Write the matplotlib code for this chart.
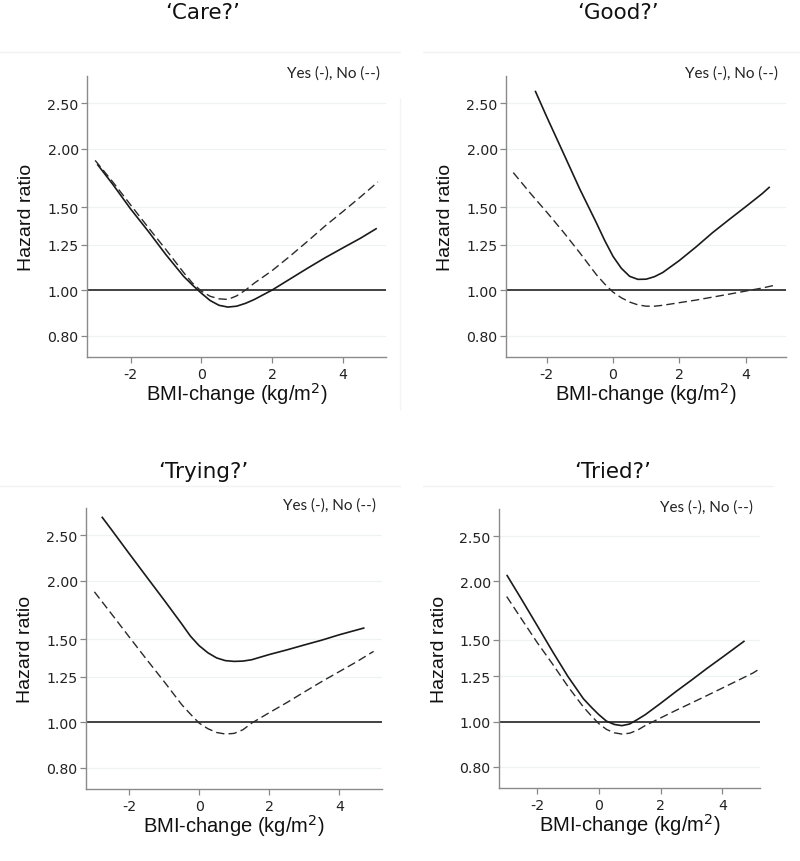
import matplotlib
matplotlib.use("Agg")
import matplotlib.pyplot as plt
from matplotlib.lines import Line2D

# ---------------- data ----------------
titles = ["\u2018Care?\u2019", "\u2018Good?\u2019", "\u2018Trying?\u2019", "\u2018Tried?\u2019"]
legend_note = "Yes (-), No (--)"
xlabel = "BMI-change (kg/m$^{2}$)"
ylabel = "Hazard ratio"
yticks = [0.80, 1.00, 1.25, 1.50, 2.00, 2.50]
ytick_labels = ["0.80", "1.00", "1.25", "1.50", "2.00", "2.50"]
xticks = [-2, 0, 2, 4]
xtick_labels = ["-2", "0", "2", "4"]

# Care?
care_yes_x = [-2.94, -2.5, -2.0, -1.5, -1.0, -0.5, -0.25, 0.0, 0.25, 0.5, 0.75, 1.0, 1.25, 1.5, 2.0, 2.5, 3.0, 3.5, 4.0, 4.5, 4.96]
care_yes_y = [1.855, 1.68, 1.49, 1.335, 1.19, 1.07, 1.025, 0.985, 0.950, 0.928, 0.920, 0.924, 0.937, 0.955, 1.00, 1.055, 1.113, 1.172, 1.23, 1.29, 1.354]
care_no_x = [-3.0, -2.5, -2.0, -1.5, -1.0, -0.5, -0.25, 0.0, 0.25, 0.5, 0.75, 1.0, 1.25, 1.5, 2.0, 2.5, 3.0, 3.5, 4.0, 4.5, 4.99]
care_no_y = [1.89, 1.70, 1.52, 1.36, 1.22, 1.09, 1.035, 0.995, 0.970, 0.958, 0.955, 0.972, 1.00, 1.035, 1.10, 1.18, 1.27, 1.37, 1.47, 1.58, 1.70]

# Good?
good_yes_x = [-2.35, -2.0, -1.5, -1.0, -0.5, -0.25, 0.0, 0.25, 0.5, 0.75, 1.0, 1.25, 1.5, 2.0, 2.5, 3.0, 3.5, 4.0, 4.5, 4.73]
good_yes_y = [2.66, 2.34, 1.96, 1.64, 1.39, 1.275, 1.18, 1.113, 1.07, 1.054, 1.055, 1.068, 1.09, 1.156, 1.235, 1.325, 1.413, 1.505, 1.605, 1.66]
good_no_x = [-3.01, -2.5, -2.0, -1.5, -1.0, -0.5, -0.25, 0.0, 0.25, 0.5, 0.75, 1.0, 1.25, 1.5, 2.0, 2.5, 3.0, 3.5, 4.0, 4.5, 4.88]
good_no_y = [1.78, 1.61, 1.466, 1.33, 1.20, 1.078, 1.03, 0.99, 0.963, 0.943, 0.930, 0.924, 0.924, 0.928, 0.940, 0.952, 0.966, 0.980, 0.995, 1.010, 1.024]

# Trying?
trying_yes_x = [-2.78, -2.5, -2.0, -1.5, -1.0, -0.5, -0.25, 0.0, 0.25, 0.5, 0.75, 1.0, 1.25, 1.5, 2.0, 2.5, 3.0, 3.5, 4.0, 4.72]
trying_yes_y = [2.74, 2.57, 2.288, 2.04, 1.82, 1.62, 1.525, 1.455, 1.405, 1.37, 1.352, 1.347, 1.349, 1.358, 1.393, 1.425, 1.46, 1.495, 1.535, 1.588]
trying_no_x = [-2.99, -2.5, -2.0, -1.5, -1.0, -0.5, -0.25, 0.0, 0.25, 0.5, 0.75, 1.0, 1.25, 1.5, 2.0, 2.5, 3.0, 3.5, 4.0, 4.5, 4.98]
trying_no_y = [1.895, 1.70, 1.52, 1.36, 1.22, 1.09, 1.04, 0.995, 0.968, 0.950, 0.943, 0.946, 0.963, 0.995, 1.047, 1.10, 1.159, 1.22, 1.281, 1.345, 1.415]

# Tried?
tried_yes_x = [-2.98, -2.5, -2.0, -1.5, -1.0, -0.5, -0.25, 0.0, 0.25, 0.5, 0.75, 1.0, 1.25, 1.5, 2.0, 2.5, 3.0, 3.5, 4.0, 4.72]
tried_yes_y = [2.065, 1.83, 1.61, 1.415, 1.25, 1.12, 1.075, 1.035, 1.002, 0.986, 0.980, 0.988, 1.01, 1.034, 1.094, 1.16, 1.227, 1.30, 1.374, 1.49]
tried_no_x = [-2.98, -2.5, -2.0, -1.5, -1.0, -0.5, -0.25, 0.0, 0.25, 0.5, 0.75, 1.0, 1.25, 1.5, 2.0, 2.5, 3.0, 3.5, 4.0, 4.5, 5.0, 5.2]
tried_no_y = [1.855, 1.66, 1.48, 1.33, 1.19, 1.075, 1.03, 0.99, 0.962, 0.946, 0.940, 0.944, 0.958, 0.98, 1.018, 1.057, 1.096, 1.137, 1.18, 1.225, 1.272, 1.297]

panels = [
    (care_yes_x, care_yes_y, care_no_x, care_no_y),
    (good_yes_x, good_yes_y, good_no_x, good_no_y),
    (trying_yes_x, trying_yes_y, trying_no_x, trying_no_y),
    (tried_yes_x, tried_yes_y, tried_no_x, tried_no_y),
]

# ---------------- layout ----------------
W, H = 800, 862
fig = plt.figure(figsize=(W / 100, H / 100), dpi=100)
fig.patch.set_facecolor("white")

# axes boxes in pixels: left, top, right, bottom
boxes = [(87, 77, 386, 358), (506, 77, 786, 358), (86, 509, 382, 790), (499, 510, 760, 789)]
title_pos = [(203, 13), (618, 13), (203, 472), (613, 472)]
note_pos = [(380, 74), (778, 74), (376, 506), (753, 508)]
region_lines = [((0, 400), 52.5), ((423, 800), 52.5), ((0, 400), 487), ((423, 773), 487)]

TXT = "Liberation Sans"
TICK = "DejaVu Sans"
line_col = "#1a1a1a"

for i, (yx, yy, nx, ny) in enumerate(panels):
    l, t, r, b = boxes[i]
    ax = fig.add_axes([l / W, 1 - b / H, (r - l) / W, (b - t) / H])
    ax.set_yscale("log")
    ax.set_xlim(-3.23, 5.22)
    ax.set_ylim(0.72, 2.86)
    ax.set_yticks(yticks)
    ax.set_yticklabels(ytick_labels, fontfamily=TICK, fontsize=10.2, color="#222222")
    ax.yaxis.set_minor_locator(matplotlib.ticker.NullLocator())
    ax.set_xticks(xticks)
    ax.set_xticklabels(xtick_labels, fontfamily=TICK, fontsize=10.2, color="#222222")
    ax.tick_params(axis="both", direction="out", length=4, width=0.9, color="#888888")
    ax.tick_params(axis="y", pad=2)
    ax.tick_params(axis="x", pad=3)
    for s in ["top", "right"]:
        ax.spines[s].set_visible(False)
    for s in ["left", "bottom"]:
        ax.spines[s].set_color("#8a8a8a")
        ax.spines[s].set_linewidth(1.0)
    for v in yticks:
        if v != 1.0:
            ax.axhline(v, color="#eef2f2", lw=0.9, zorder=0)
    ax.axhline(1.0, color="#333333", lw=1.3, zorder=1)
    ax.plot(yx, yy, color=line_col, lw=1.2, solid_capstyle="butt", zorder=3)
    ax.plot(nx, ny, color="#2a2a2a", lw=1.0, dashes=(6, 3), zorder=3)
    ax.set_xlabel(xlabel, fontfamily=TXT, fontsize=14.5, va="baseline", color="#111111")
    ax.xaxis.set_label_coords(0.5, -43 / (b - t))
    ax.set_ylabel(ylabel, fontfamily=TXT, fontsize=14, va="center", color="#111111")
    ax.yaxis.set_label_coords(-60 / (r - l), 0.5)

    tx, ty = title_pos[i]
    fig.text(tx / W, 1 - ty / H, titles[i], fontfamily=TICK, fontsize=15.5,
             ha="center", va="center", color="#111111")
    nxp, nyp = note_pos[i]
    fig.text(nxp / W, 1 - nyp / H, legend_note, fontfamily="Lato", fontsize=11,
             ha="right", va="center", color="#222222")
    (x0, x1), yl = region_lines[i]
    fig.add_artist(Line2D([x0 / W, x1 / W], [1 - yl / H, 1 - yl / H],
                          transform=fig.transFigure, color="#f2f2f2", lw=1.0))

fig.add_artist(Line2D([400 / W, 400 / W], [1 - 410 / H, 1 - 100 / H],
                      transform=fig.transFigure, color="#f4f4f4", lw=1.0))

fig.savefig("out.png", dpi=100, facecolor="white")
